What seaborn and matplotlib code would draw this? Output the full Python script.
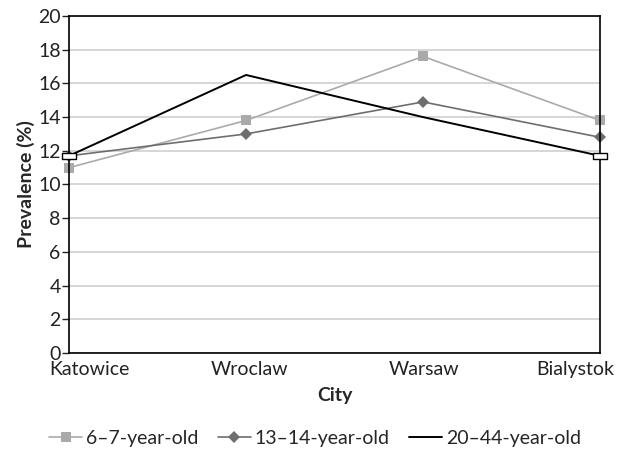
import pandas as pd
import seaborn as sns
import matplotlib.pyplot as plt
import matplotlib.transforms as mtransforms
from matplotlib.lines import Line2D
from matplotlib.path import Path

cities = ["Katowice", "Wroclaw", "Warsaw", "Bialystok"]
age_6_7 = [11.0, 13.8, 17.6, 13.8]
age_13_14 = [11.7, 13.0, 14.9, 12.8]
age_20_44 = [11.7, 16.5, 14.0, 11.7]
series_names = ["6–7-year-old", "13–14-year-old", "20–44-year-old"]
y_ticks = list(range(0, 21, 2))

sns.set_style("white")
plt.rcParams['font.family'] = ['Lato', 'DejaVu Sans']
plt.rcParams['font.size'] = 14

df = pd.DataFrame({"City": cities, series_names[0]: age_6_7,
                   series_names[1]: age_13_14, series_names[2]: age_20_44})

fig = plt.figure(figsize=(6.18, 4.57), dpi=100)
ax = fig.add_axes([0.1117, 0.2276, 0.8593, 0.7374])

# flat white box used on the ends of the adult series
bar_marker = Path([(-1, -0.35), (1, -0.35), (1, 0.35), (-1, 0.35), (-1, -0.35)],
                  [Path.MOVETO, Path.LINETO, Path.LINETO, Path.LINETO, Path.CLOSEPOLY])

sns.lineplot(data=df, x="City", y=series_names[0], ax=ax, color="#aaaaaa", lw=1.2,
             marker="s", markersize=6.5, markeredgewidth=0, sort=False, clip_on=False)
sns.lineplot(data=df, x="City", y=series_names[1], ax=ax, color="#6e6e6e", lw=1.2,
             marker="D", markersize=6.5, markeredgewidth=0, sort=False, clip_on=False)
sns.lineplot(data=df, x="City", y=series_names[2], ax=ax, color="black", lw=1.4,
             sort=False, clip_on=False)
ends = df.iloc[[0, -1]]
sns.scatterplot(data=ends, x="City", y=series_names[2], ax=ax, marker=bar_marker, s=110,
                facecolor="white", edgecolor="black", linewidth=1.0, zorder=5, clip_on=False)

ax.set_xlim(0, len(cities) - 1)
ax.set_ylim(0, 20)
ax.set_yticks(y_ticks)
ax.yaxis.grid(True, color="#d0d0d0", lw=1.2)
ax.set_axisbelow(True)
for sp in ax.spines.values():
    sp.set_visible(True)
    sp.set_color("black")
    sp.set_linewidth(1.2)
ax.tick_params(axis="y", left=True, length=5, width=1, pad=1, colors="#222222")
ax.tick_params(axis="x", bottom=False, pad=2, colors="#222222")

# nudge the category labels like the original (edge labels pulled inward)
shifts = [20, 3, 1, -25]
for lbl, dx in zip(ax.get_xticklabels(), shifts):
    lbl.set_transform(lbl.get_transform() + mtransforms.ScaledTranslation(dx / 100, 0, fig.dpi_scale_trans))

ax.set_xlabel("City", fontweight="bold", labelpad=7)
ax.set_ylabel("Prevalence (%)", fontweight="bold", labelpad=2)

handles = [
    Line2D([], [], color="#aaaaaa", lw=1.2, marker="s", markersize=6.5, markeredgewidth=0),
    Line2D([], [], color="#6e6e6e", lw=1.2, marker="D", markersize=6.5, markeredgewidth=0),
    Line2D([], [], color="black", lw=1.4),
]
fig.legend(handles, series_names, loc="center", bbox_to_anchor=(0.51, 0.04), ncol=3,
           frameon=False, handlelength=1.7, handletextpad=0.2, columnspacing=1.0)

fig.savefig("out.png", dpi=100)
plt.close(fig)
